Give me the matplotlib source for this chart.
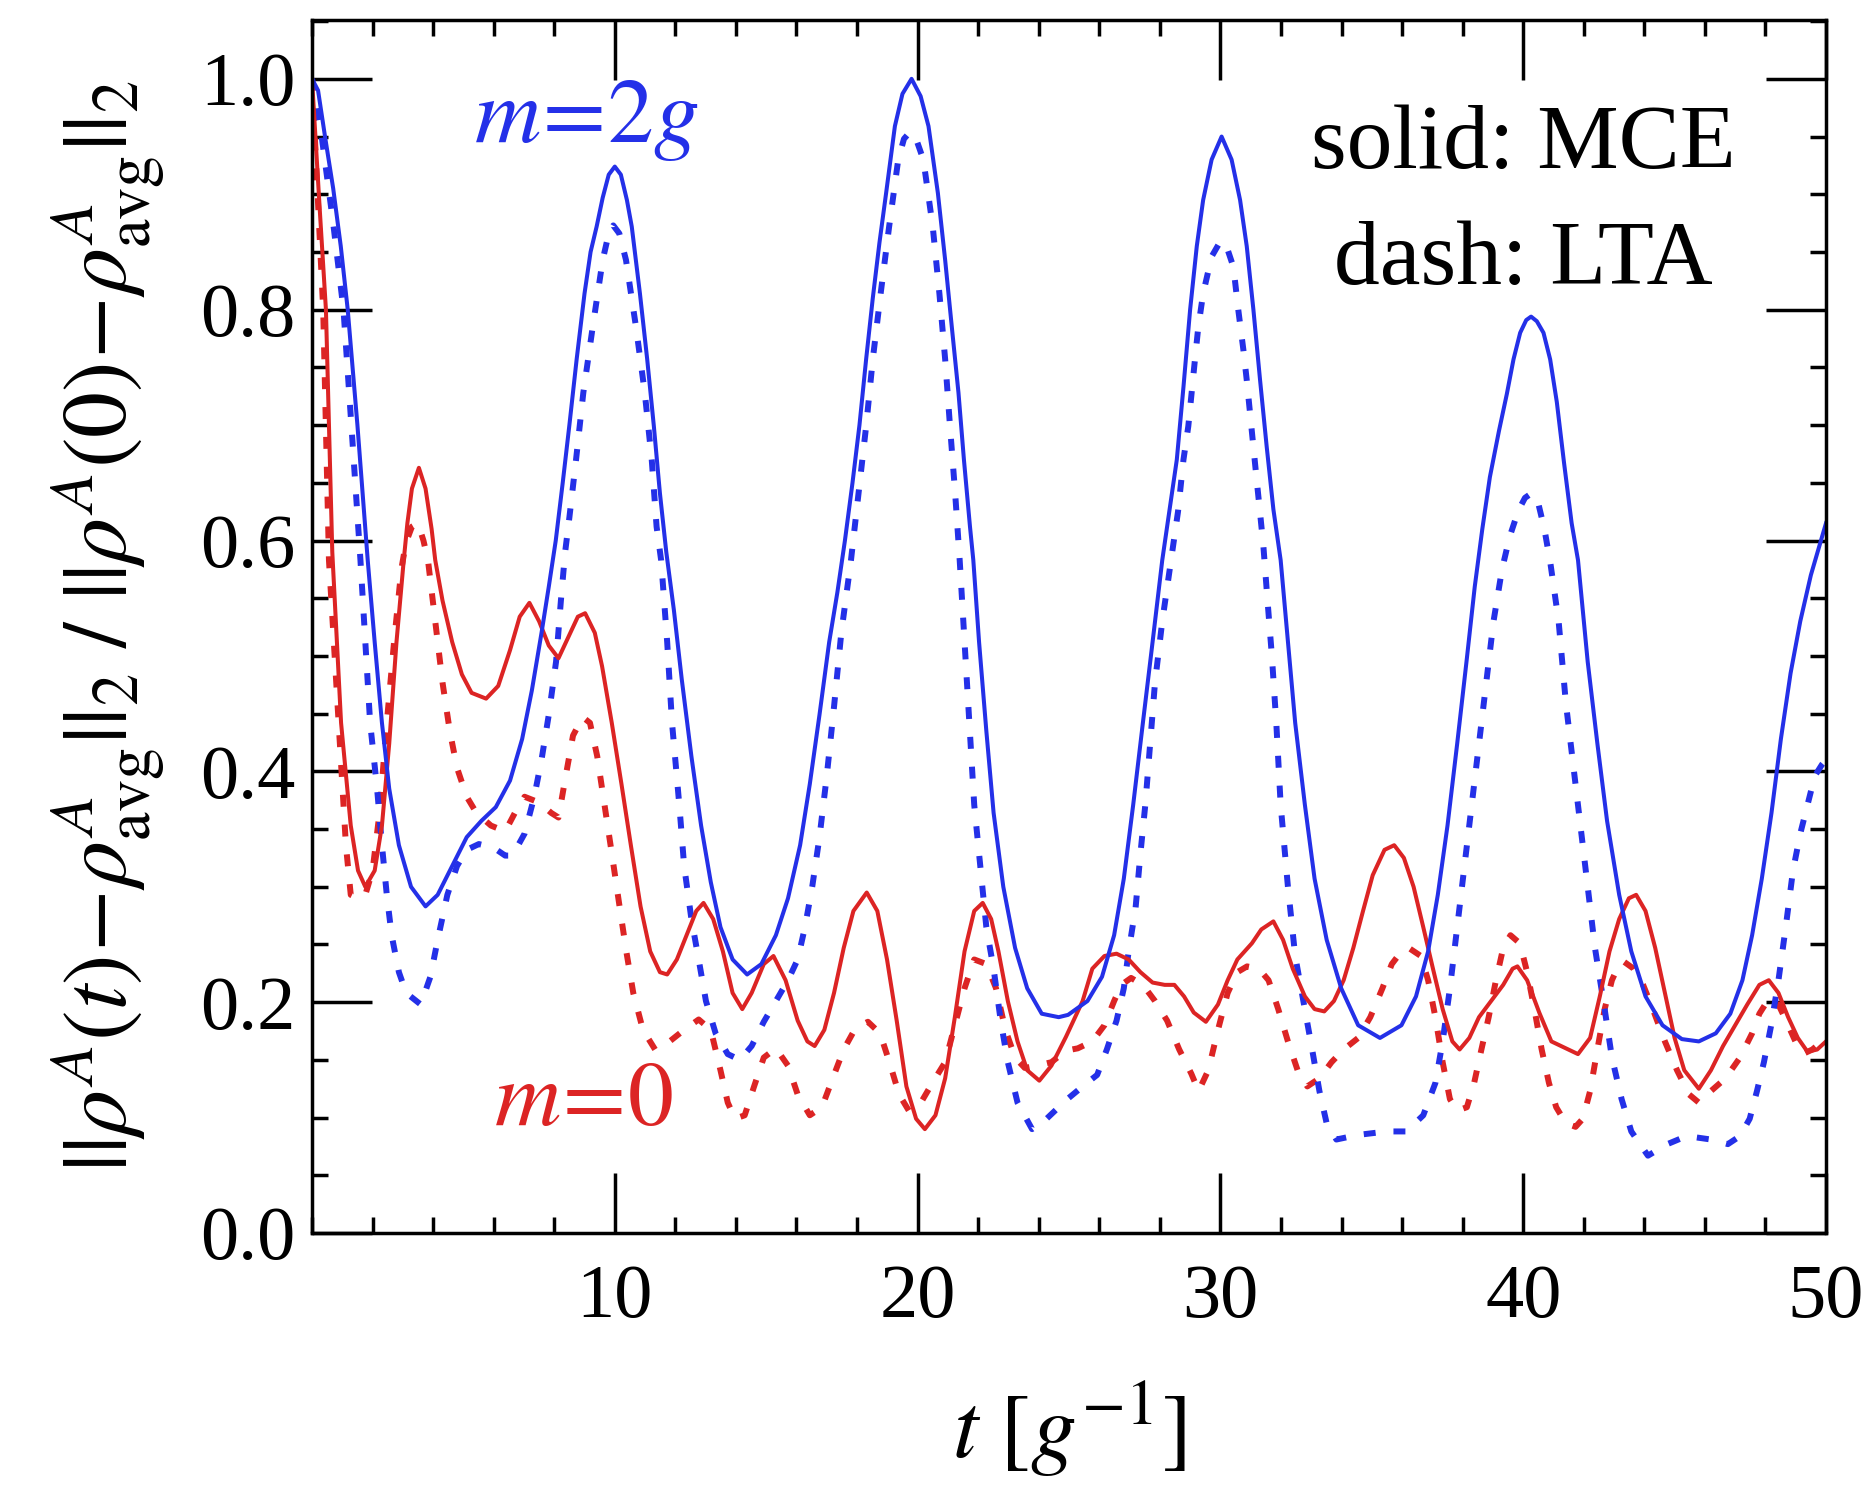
import matplotlib
matplotlib.use("Agg")
import matplotlib.pyplot as plt
from matplotlib.ticker import MultipleLocator, FixedLocator

plt.rcParams['font.family'] = ['Liberation Serif', 'DejaVu Serif']
plt.rcParams['mathtext.fontset'] = 'stix'

# ---- data ----
# m = 2g, MCE (solid blue)
t_blue_mce = [0.0, 0.2, 0.43, 0.7, 0.95, 1.18, 1.5, 1.84, 2.07, 2.31, 2.55, 2.87, 3.27, 3.75, 4.15, 4.63, 5.11,
              5.59, 6.07, 6.54, 6.94, 7.26, 7.58, 7.82, 8.05, 8.28, 8.5, 8.74, 9.0, 9.2, 9.4, 9.6, 9.8, 10.0,
              10.2, 10.4, 10.56, 10.83, 11.07, 11.29, 11.49, 11.7, 11.95, 12.21, 12.53, 12.85, 13.17, 13.49,
              13.89, 14.37, 14.84, 15.32, 15.72, 16.12, 16.44, 16.76, 17.08, 17.35, 17.6, 17.85, 18.08, 18.3,
              18.52, 18.74, 18.96, 19.25, 19.5, 19.8, 20.1, 20.36, 20.67, 20.91, 21.13, 21.35, 21.53, 21.73,
              21.84, 22.03, 22.27, 22.51, 22.83, 23.22, 23.62, 24.1, 24.66, 24.97, 25.61, 26.09, 26.49, 26.81,
              27.12, 27.44, 27.76, 28.08, 28.34, 28.56, 28.78, 29.0, 29.22, 29.43, 29.71, 30.04, 30.37, 30.65,
              30.87, 31.09, 31.31, 31.53, 31.75, 31.99, 32.23, 32.47, 32.79, 33.11, 33.51, 33.99, 34.55, 35.27,
              35.98, 36.46, 36.86, 37.18, 37.5, 37.82, 38.14, 38.4, 38.65, 38.9, 39.2, 39.46, 39.68, 39.9,
              40.1, 40.26, 40.45, 40.67, 40.89, 41.11, 41.35, 41.6, 41.81, 42.13, 42.45, 42.77, 43.17, 43.57,
              44.04, 44.6, 45.24, 45.8, 46.36, 46.84, 47.24, 47.56, 47.88, 48.2, 48.51, 48.83, 49.15, 49.5,
              50.0]
v_blue_mce = [1.0, 0.99, 0.95, 0.905, 0.855, 0.80, 0.70, 0.583, 0.512, 0.442, 0.385, 0.336, 0.30, 0.283,
              0.293, 0.318, 0.343, 0.357, 0.369, 0.392, 0.428, 0.47, 0.52, 0.56, 0.60, 0.65, 0.70, 0.757,
              0.814, 0.85, 0.872, 0.897, 0.917, 0.924, 0.917, 0.895, 0.872, 0.814, 0.757, 0.699, 0.641, 0.59,
              0.54, 0.48, 0.413, 0.353, 0.304, 0.265, 0.237, 0.224, 0.233, 0.258, 0.29, 0.336, 0.389, 0.449,
              0.512, 0.555, 0.60, 0.65, 0.70, 0.757, 0.81, 0.858, 0.901, 0.959, 0.987, 1.0, 0.985, 0.959, 0.901,
              0.843, 0.785, 0.728, 0.67, 0.612, 0.583, 0.512, 0.435, 0.364, 0.30, 0.247, 0.212, 0.19, 0.187,
              0.189, 0.201, 0.222, 0.258, 0.307, 0.371, 0.442, 0.512, 0.583, 0.63, 0.67, 0.733, 0.80, 0.855,
              0.895, 0.93, 0.95, 0.93, 0.895, 0.855, 0.80, 0.739, 0.681, 0.627, 0.583, 0.512, 0.442, 0.371,
              0.307, 0.254, 0.212, 0.18, 0.169, 0.18, 0.205, 0.244, 0.293, 0.353, 0.424, 0.498, 0.56, 0.61,
              0.655, 0.695, 0.727, 0.757, 0.78, 0.791, 0.794, 0.79, 0.78, 0.757, 0.72, 0.667, 0.615, 0.583,
              0.495, 0.424, 0.357, 0.293, 0.244, 0.205, 0.18, 0.168, 0.166, 0.173, 0.19, 0.219, 0.258, 0.307,
              0.364, 0.428, 0.485, 0.53, 0.57, 0.615]

# m = 2g, LTA (dashed blue)
t_blue_lta = [0.0, 0.32, 0.7, 1.04, 1.3, 1.6, 1.76, 1.92, 2.15, 2.31, 2.47, 2.63, 2.87, 3.11, 3.59, 3.91, 4.15,
              4.47, 4.79, 5.11, 5.51, 5.99, 6.38, 6.62, 7.02, 7.34, 7.58, 7.82, 8.06, 8.22, 8.36, 8.5, 8.72,
              8.96, 9.27, 9.6, 9.8, 9.95, 10.15, 10.37, 10.7, 10.99, 11.22, 11.38, 11.53, 11.73, 11.89, 12.13,
              12.29, 12.53, 12.77, 13.01, 13.33, 13.73, 14.13, 14.52, 14.92, 15.32, 15.72, 16.04, 16.28, 16.52,
              16.76, 17.0, 17.24, 17.48, 17.8, 18.05, 18.3, 18.52, 18.78, 19.06, 19.36, 19.55, 19.75, 19.95,
              20.19, 20.5, 20.72, 20.91, 21.07, 21.24, 21.39, 21.55, 21.71, 21.87, 22.11, 22.27, 22.51, 22.75,
              22.98, 23.3, 23.78, 24.26, 24.9, 25.45, 25.93, 26.25, 26.57, 26.81, 26.97, 27.2, 27.36, 27.52,
              27.68, 27.84, 28.08, 28.37, 28.6, 28.78, 28.94, 29.05, 29.16, 29.27, 29.43, 29.71, 29.95, 30.15,
              30.43, 30.59, 30.76, 30.87, 30.98, 31.09, 31.2, 31.31, 31.42, 31.55, 31.7, 31.85, 31.99, 32.23,
              32.47, 32.79, 33.03, 33.27, 33.51, 33.83, 34.55, 35.5, 36.14, 36.7, 37.1, 37.34, 37.58, 37.82,
              38.06, 38.3, 38.54, 38.78, 39.02, 39.3, 39.55, 39.84, 40.06, 40.28, 40.5, 40.7, 40.9, 41.17,
              41.41, 41.65, 41.89, 42.13, 42.37, 42.69, 42.93, 43.25, 43.57, 44.12, 44.76, 45.4, 46.2, 46.76,
              47.16, 47.48, 47.72, 47.95, 48.19, 48.43, 48.67, 48.91, 49.15, 49.39, 49.63, 49.87, 50.0]
v_blue_lta = [1.0, 0.95, 0.875, 0.80, 0.70, 0.583, 0.512, 0.442, 0.385, 0.336, 0.293, 0.258, 0.226, 0.208,
              0.198, 0.222, 0.254, 0.293, 0.318, 0.332, 0.337, 0.334, 0.327, 0.327, 0.346, 0.378, 0.41, 0.449,
              0.495, 0.548, 0.59, 0.62, 0.67, 0.728, 0.785, 0.843, 0.866, 0.873, 0.866, 0.843, 0.785, 0.728,
              0.67, 0.612, 0.583, 0.512, 0.442, 0.371, 0.318, 0.272, 0.237, 0.201, 0.173, 0.155, 0.15, 0.162,
              0.183, 0.201, 0.219, 0.237, 0.265, 0.30, 0.343, 0.396, 0.456, 0.52, 0.583, 0.641, 0.699, 0.757,
              0.814, 0.872, 0.93, 0.948, 0.954, 0.948, 0.93, 0.872, 0.814, 0.757, 0.699, 0.641, 0.583, 0.512,
              0.442, 0.371, 0.307, 0.265, 0.229, 0.183, 0.148, 0.113, 0.09, 0.099, 0.115, 0.127, 0.137, 0.159,
              0.184, 0.212, 0.244, 0.282, 0.329, 0.371, 0.424, 0.477, 0.53, 0.583, 0.625, 0.67, 0.699, 0.728,
              0.757, 0.785, 0.814, 0.846, 0.857, 0.859, 0.837, 0.80, 0.765, 0.739, 0.71, 0.681, 0.652, 0.624,
              0.595, 0.55, 0.50, 0.44, 0.371, 0.30, 0.24, 0.194, 0.159, 0.123, 0.095, 0.081, 0.085, 0.088,
              0.088, 0.102, 0.13, 0.166, 0.212, 0.265, 0.318, 0.371, 0.424, 0.477, 0.53, 0.575, 0.603, 0.626,
              0.637, 0.641, 0.632, 0.61, 0.58, 0.53, 0.459, 0.406, 0.353, 0.30, 0.247, 0.194, 0.152, 0.116,
              0.088, 0.067, 0.077, 0.084, 0.081, 0.077, 0.084, 0.099, 0.123, 0.148, 0.18, 0.219, 0.265, 0.314,
              0.346, 0.371, 0.396, 0.406, 0.41]

# m = 0, MCE (solid red)
t_red_mce = [0.0, 0.26, 0.46, 0.67, 0.96, 1.28, 1.52, 1.76, 2.07, 2.31, 2.55, 2.79, 3.03, 3.15, 3.3, 3.53, 3.75,
             3.95, 4.07, 4.31, 4.63, 4.95, 5.27, 5.75, 6.15, 6.54, 6.86, 7.18, 7.5, 7.82, 8.14, 8.46, 8.78, 9.02,
             9.34, 9.58, 9.9, 10.22, 10.53, 10.85, 11.17, 11.49, 11.73, 12.05, 12.37, 12.69, 12.93, 13.25,
             13.57, 13.89, 14.21, 14.52, 14.92, 15.24, 15.64, 16.04, 16.36, 16.6, 16.92, 17.24, 17.56, 17.88,
             18.32, 18.67, 18.99, 19.31, 19.63, 19.95, 20.24, 20.59, 20.91, 21.23, 21.55, 21.87, 22.15, 22.43,
             22.67, 22.98, 23.3, 23.62, 24.02, 24.42, 24.9, 25.45, 25.77, 26.17, 26.57, 26.97, 27.36, 27.76,
             28.16, 28.48, 28.8, 29.12, 29.52, 29.92, 30.24, 30.56, 31.04, 31.35, 31.75, 32.07, 32.39, 32.79,
             33.11, 33.43, 33.75, 34.07, 34.39, 34.71, 35.03, 35.42, 35.74, 36.06, 36.38, 36.7, 37.02, 37.34,
             37.66, 37.9, 38.22, 38.54, 38.94, 39.34, 39.65, 39.81, 40.13, 40.53, 40.93, 41.33, 41.81, 42.21,
             42.53, 42.85, 43.17, 43.49, 43.73, 44.04, 44.36, 44.68, 45.0, 45.32, 45.8, 46.2, 46.6, 47.0, 47.4,
             47.8, 48.11, 48.43, 48.75, 49.07, 49.39, 49.71, 50.0]
v_red_mce = [1.0, 0.885, 0.80, 0.59, 0.442, 0.353, 0.314, 0.30, 0.314, 0.353, 0.424, 0.512, 0.583, 0.615, 0.645,
             0.663, 0.645, 0.61, 0.583, 0.548, 0.512, 0.484, 0.468, 0.463, 0.474, 0.505, 0.534, 0.546, 0.53,
             0.509, 0.498, 0.516, 0.534, 0.537, 0.52, 0.491, 0.442, 0.389, 0.336, 0.283, 0.244, 0.226, 0.224,
             0.237, 0.258, 0.279, 0.286, 0.272, 0.244, 0.208, 0.194, 0.208, 0.233, 0.24, 0.219, 0.184, 0.166,
             0.162, 0.176, 0.208, 0.247, 0.279, 0.295, 0.279, 0.237, 0.184, 0.127, 0.099, 0.09, 0.102, 0.134,
             0.187, 0.244, 0.279, 0.286, 0.272, 0.244, 0.201, 0.166, 0.141, 0.132, 0.145, 0.17, 0.201, 0.229,
             0.24, 0.242, 0.237, 0.226, 0.217, 0.215, 0.215, 0.205, 0.191, 0.183, 0.198, 0.219, 0.237, 0.251,
             0.263, 0.27, 0.254, 0.229, 0.205, 0.194, 0.192, 0.201, 0.219, 0.247, 0.279, 0.31, 0.332, 0.336,
             0.325, 0.30, 0.265, 0.229, 0.194, 0.166, 0.159, 0.169, 0.187, 0.201, 0.215, 0.229, 0.231, 0.219,
             0.191, 0.166, 0.161, 0.155, 0.169, 0.205, 0.244, 0.272, 0.29, 0.293, 0.279, 0.247, 0.208, 0.169,
             0.141, 0.125, 0.141, 0.162, 0.18, 0.198, 0.215, 0.219, 0.208, 0.187, 0.169, 0.157, 0.159, 0.166]

# m = 0, LTA (dashed red)
t_red_lta = [0.0, 0.37, 0.56, 0.8, 0.96, 1.12, 1.28, 1.52, 1.76, 2.0, 2.23, 2.47, 2.71, 2.95, 3.1, 3.3, 3.5,
             3.68, 3.83, 4.07, 4.31, 4.55, 4.79, 5.11, 5.43, 5.91, 6.38, 6.7, 7.02, 7.5, 7.9, 8.14, 8.38, 8.62,
             8.94, 9.18, 9.42, 9.66, 9.9, 10.14, 10.38, 10.61, 10.93, 11.33, 11.81, 12.29, 12.77, 13.17, 13.49,
             13.73, 13.97, 14.29, 14.6, 14.92, 15.32, 15.72, 16.04, 16.44, 16.84, 17.24, 17.56, 17.96, 18.36,
             18.76, 19.07, 19.39, 19.71, 20.11, 20.51, 20.91, 21.23, 21.55, 21.87, 22.27, 22.59, 22.9, 23.22,
             23.54, 23.94, 24.42, 24.9, 25.29, 25.77, 26.17, 26.49, 26.73, 27.05, 27.44, 27.84, 28.24, 28.64,
             29.04, 29.28, 29.6, 29.92, 30.24, 30.56, 30.88, 31.27, 31.59, 31.91, 32.23, 32.55, 32.87, 33.27,
             33.67, 34.07, 34.55, 34.95, 35.35, 35.66, 35.98, 36.22, 36.62, 36.86, 37.1, 37.34, 37.58, 37.82,
             38.14, 38.38, 38.62, 38.86, 39.1, 39.34, 39.58, 39.89, 40.13, 40.37, 40.61, 40.85, 41.09, 41.41,
             41.73, 41.97, 42.21, 42.45, 42.69, 42.93, 43.17, 43.33, 43.65, 43.96, 44.28, 44.68, 45.08, 45.48,
             45.8, 46.2, 46.68, 47.16, 47.56, 47.8, 48.11, 48.43, 48.75, 48.99, 49.23, 49.55, 49.87, 50.0]
v_red_lta = [1.0, 0.80, 0.583, 0.477, 0.406, 0.336, 0.293, 0.29, 0.293, 0.314, 0.364, 0.442, 0.512, 0.575,
             0.598, 0.612, 0.615, 0.60, 0.583, 0.53, 0.477, 0.435, 0.403, 0.378, 0.364, 0.353, 0.348, 0.364,
             0.378, 0.373, 0.364, 0.36, 0.396, 0.431, 0.447, 0.442, 0.413, 0.371, 0.329, 0.286, 0.244, 0.208,
             0.176, 0.159, 0.166, 0.176, 0.185, 0.176, 0.141, 0.113, 0.099, 0.102, 0.127, 0.152, 0.16, 0.145,
             0.12, 0.102, 0.109, 0.137, 0.159, 0.178, 0.183, 0.173, 0.148, 0.12, 0.106, 0.113, 0.131, 0.148,
             0.18, 0.212, 0.237, 0.233, 0.212, 0.176, 0.152, 0.143, 0.145, 0.148, 0.158, 0.16, 0.166, 0.18,
             0.201, 0.215, 0.221, 0.215, 0.201, 0.184, 0.159, 0.138, 0.123, 0.141, 0.176, 0.208, 0.226, 0.231,
             0.229, 0.219, 0.194, 0.166, 0.141, 0.127, 0.134, 0.148, 0.159, 0.169, 0.187, 0.212, 0.233, 0.244,
             0.247, 0.24, 0.219, 0.187, 0.148, 0.116, 0.106, 0.109, 0.13, 0.159, 0.187, 0.219, 0.247, 0.258,
             0.251, 0.226, 0.194, 0.159, 0.13, 0.109, 0.095, 0.092, 0.099, 0.123, 0.159, 0.194, 0.219, 0.233,
             0.235, 0.229, 0.215, 0.194, 0.166, 0.141, 0.12, 0.113, 0.123, 0.134, 0.152, 0.173, 0.19, 0.203,
             0.198, 0.18, 0.166, 0.155, 0.159, 0.166, 0.168]

x_major = [10, 20, 30, 40, 50]
x_labels = ['10', '20', '30', '40', '50']
y_major = [0.0, 0.2, 0.4, 0.6, 0.8, 1.0]
y_labels = ['0.0', '0.2', '0.4', '0.6', '0.8', '1.0']

BLUE = '#2430E8'
RED = '#DC2424'

fig = plt.figure(figsize=(18.74, 14.94), dpi=100)
ax = fig.add_axes([312/1874, 1 - 1233/1494, (1826 - 312)/1874, (1233 - 20)/1494])

dash = (0, (2.0, 3.0))
ax.plot(t_red_lta, v_red_lta, color=RED, lw=4.3, linestyle=dash)
ax.plot(t_blue_lta, v_blue_lta, color=BLUE, lw=4.3, linestyle=dash)
ax.plot(t_red_mce, v_red_mce, color=RED, lw=2.9, solid_joinstyle='round')
ax.plot(t_blue_mce, v_blue_mce, color=BLUE, lw=2.9, solid_joinstyle='round')

ax.set_xlim(0, 50)
ax.set_ylim(0, 1.051)
ax.xaxis.set_major_locator(FixedLocator(x_major))
ax.set_xticklabels(x_labels)
ax.xaxis.set_minor_locator(MultipleLocator(2))
ax.yaxis.set_major_locator(FixedLocator(y_major))
ax.set_yticklabels(y_labels)
ax.yaxis.set_minor_locator(MultipleLocator(0.05))

ax.tick_params(which='both', direction='in', top=True, right=True, width=2.5, labelsize=55)
ax.tick_params(which='major', length=43)
ax.tick_params(which='minor', length=11.5)
ax.tick_params(axis='x', which='major', pad=22)
ax.tick_params(axis='y', which='major', pad=12)
for s in ax.spines.values():
    s.set_linewidth(2.5)

ax.set_xlabel(r'$t\ [g^{-1}]$', fontsize=66, labelpad=34)
ax.set_ylabel(r'$||\rho^A(t)\!-\!\rho^A_{\rm avg}||_2\ /\ ||\rho^A(0)\!-\!\rho^A_{\rm avg}||_2$',
              fontsize=66, labelpad=24)

ax.text(9.05, 0.945, r'$m\!=\!2g$', color=BLUE, fontsize=66, ha='center', va='baseline')
ax.text(8.98, 0.094, r'$m\!=\!0$', color=RED, fontsize=66, ha='center', va='baseline')
ax.text(40.0, 0.923, 'solid: MCE', fontsize=66, ha='center', va='baseline')
ax.text(40.0, 0.822, 'dash: LTA', fontsize=66, ha='center', va='baseline')

fig.savefig('out.png', dpi=100)
